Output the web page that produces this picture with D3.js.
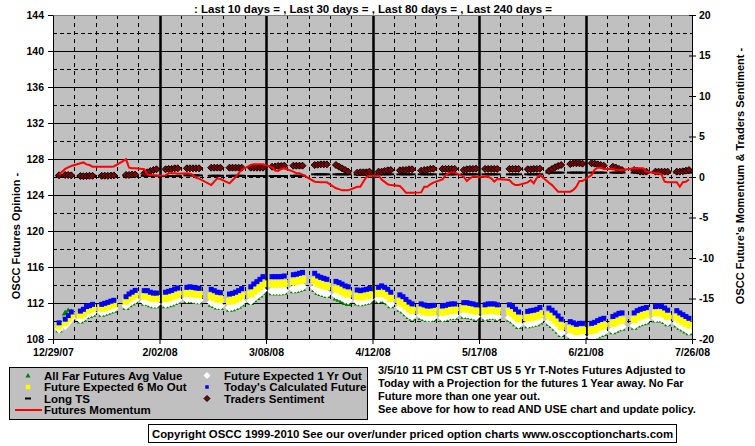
<!DOCTYPE html>
<html><head><meta charset="utf-8">
<script src="https://cdn.jsdelivr.net/npm/d3@7"></script>
<style>
body{margin:0;background:#fff;}
svg{display:block;font-family:"Liberation Sans",Arial,sans-serif;font-weight:bold;}
</style>
</head><body>
<svg id="chart" width="755" height="446"></svg>
<script>
// ---------------- DATA ----------------
// trading weeks start on these Mondays; each series gives Mon..Fri values (null = holiday)
const firstMonday = "2007-12-31";
const weekCount = 30;

const todaysCalc = [
 [109.8,null,110.2,110.6,111.0],[111.1,111.3,111.6,111.7,111.85],[111.85,111.96,112.07,112.2,112.3],
 [null,112.7,113.0,113.2,113.4],[113.37,113.37,113.2,113.1,113.1],[113.2,113.3,113.4,113.56,113.67],
 [113.74,113.8,113.74,113.67,113.63],[null,113.52,113.37,113.2,113.15],[113.0,113.07,113.2,113.37,113.6],
 [113.8,114.11,114.37,114.63,114.93],[114.93,114.93,114.93,114.93,115.0],[115.15,115.2,115.3,115.4,null],
 [115.3,115.0,114.85,114.74,114.63],[114.4,114.26,114.1,113.9,113.8],[113.45,113.37,113.45,113.52,113.6],
 [113.74,113.9,113.74,113.52,113.2],[112.9,112.7,112.4,112.1,111.9],[111.9,111.78,111.67,111.67,111.74],
 [111.67,111.74,111.85,111.9,111.9],[112.04,112.04,111.96,111.9,111.8],[111.8,111.9,111.9,111.9,111.8],
 [null,111.8,111.6,111.3,111.0],[111.07,111.15,111.2,111.3,111.5],[111.44,111.2,110.9,110.56,110.2],
 [109.93,109.8,109.63,109.74,109.74],[109.74,109.85,110.04,110.2,110.3],[110.5,110.67,110.85,110.9,null],
 [110.9,111.15,111.3,111.4,111.5],[111.6,111.67,111.6,111.44,111.2],[111.15,110.9,110.7,110.5,110.3]
];
const sixMonthOut = [
 [109.45,null,109.85,110.25,110.65],[110.65,110.85,111.15,111.25,111.4],[111.4,111.51,111.62,111.75,111.85],
 [null,112.2,112.5,112.7,112.9],[112.77,112.77,112.6,112.5,112.5],[112.5,112.6,112.7,112.86,112.97],
 [113.04,113.1,113.04,112.97,112.93],[null,112.77,112.62,112.45,112.4],[112.2,112.27,112.4,112.57,112.8],
 [113.0,113.31,113.57,113.83,114.13],[114.13,114.13,114.13,114.13,114.2],[114.35,114.4,114.5,114.6,null],
 [114.5,114.2,114.05,113.94,113.83],[113.6,113.46,113.3,113.1,113.0],[112.75,112.67,112.75,112.82,112.9],
 [113.04,113.2,113.04,112.82,112.5],[112.15,111.95,111.65,111.35,111.15],[111.2,111.08,110.97,110.97,111.04],
 [110.97,111.04,111.15,111.2,111.2],[111.34,111.34,111.26,111.2,111.1],[111.1,111.2,111.2,111.2,111.1],
 [null,111.05,110.85,110.55,110.25],[110.32,110.4,110.45,110.55,110.75],[110.64,110.4,110.1,109.76,109.4],
 [109.13,109.0,108.83,108.94,108.94],[108.94,109.05,109.24,109.4,109.5],[109.7,109.87,110.05,110.1,null],
 [110.15,110.4,110.55,110.65,110.75],[110.9,110.97,110.9,110.74,110.5],[110.4,110.15,109.95,109.75,109.55]
];
const oneYearOut = [
 [109.1,null,109.5,109.9,110.3],[110.2,110.4,110.7,110.8,110.95],[110.95,111.06,111.17,111.3,111.4],
 [null,111.7,112.0,112.2,112.4],[112.17,112.17,112.0,111.9,111.9],[111.9,112.0,112.1,112.26,112.37],
 [112.44,112.5,112.44,112.37,112.33],[null,112.07,111.92,111.75,111.7],[111.5,111.57,111.7,111.87,112.1],
 [112.25,112.56,112.82,113.08,113.38],[113.33,113.33,113.33,113.33,113.4],[113.55,113.6,113.7,113.8,null],
 [113.7,113.4,113.25,113.14,113.03],[112.9,112.76,112.6,112.4,112.3],[112.2,112.12,112.2,112.27,112.35],
 [112.44,112.6,112.44,112.22,111.9],[111.5,111.3,111.0,110.7,110.5],[110.6,110.48,110.37,110.37,110.44],
 [110.37,110.44,110.55,110.6,110.6],[110.74,110.74,110.66,110.6,110.5],[110.5,110.6,110.6,110.6,110.5],
 [null,110.4,110.2,109.9,109.6],[109.67,109.75,109.8,109.9,110.1],[109.94,109.7,109.4,109.06,108.7],
 [108.43,108.3,108.13,108.24,108.24],[108.24,108.35,108.54,108.7,108.8],[109.0,109.17,109.35,109.4,null],
 [109.5,109.75,109.9,110.0,110.1],[110.3,110.37,110.3,110.14,109.9],[109.75,109.5,109.3,109.1,108.9]
];
const allFarAvg = [
 [109.0,null,110.9,111.1,111.0],[110.0,110.2,110.5,110.6,110.75],[110.75,110.86,110.97,111.1,111.2],
 [null,111.5,111.8,112.0,112.2],[111.97,111.97,111.8,111.7,111.7],[111.7,111.8,111.9,112.06,112.17],
 [112.24,112.3,112.24,112.17,112.13],[null,111.87,111.72,111.55,111.5],[111.3,111.37,111.5,111.67,111.9],
 [112.05,112.36,112.62,112.88,113.18],[113.13,113.13,113.13,113.13,113.2],[113.35,113.4,113.5,113.6,null],
 [113.5,113.2,113.05,112.94,112.83],[112.55,112.41,112.25,112.05,111.95],[112.0,111.92,112.0,112.07,112.15],
 [112.24,112.4,112.24,112.02,111.7],[111.3,111.1,110.8,110.5,110.3],[110.4,110.28,110.17,110.17,110.24],
 [110.17,110.24,110.35,110.4,110.4],[110.54,110.54,110.46,110.4,110.3],[110.3,110.4,110.4,110.4,110.3],
 [null,110.2,110.0,109.7,109.4],[109.47,109.55,109.6,109.7,109.9],[109.74,109.5,109.2,108.86,108.5],
 [108.2,108.1,108.0,108.05,108.1],[108.04,108.15,108.34,108.5,108.6],[108.8,108.97,109.15,109.2,null],
 [109.3,109.55,109.7,109.8,109.9],[110.1,110.17,110.1,109.94,109.7],[109.55,109.3,109.1,108.9,108.7]
];
const tradersSentiment = [
 [0.21,null,0.25,0.25,0.2],[0.12,0.1,0.12,0.15,0.15],[0.15,0.16,0.15,0.18,0.2],
 [null,0.25,0.25,0.3,0.3],[0.45,0.58,0.74,0.86,0.95],[0.95,1.0,1.0,1.07,1.07],
 [1.07,1.07,1.07,1.07,1.07],[null,1.15,1.15,1.15,1.15],[1.15,1.15,1.15,1.15,1.15],
 [1.15,1.15,1.15,1.15,1.15],[1.27,1.3,1.36,1.36,1.4],[1.4,1.4,1.4,1.4,null],
 [1.48,1.52,1.56,1.56,1.56],[1.48,1.27,1.07,0.86,0.66],[0.54,0.58,0.58,0.58,0.66],
 [0.66,0.66,0.74,0.82,0.86],[0.82,0.86,0.86,0.95,0.95],[0.78,0.86,0.9,1.0,1.03],
 [1.0,1.0,1.0,1.0,1.0],[0.86,0.95,1.0,1.0,1.03],[1.0,1.0,1.0,1.0,1.0],
 [null,1.0,1.0,1.0,1.0],[0.95,0.95,1.0,1.0,1.03],[0.74,0.99,1.2,1.36,1.48],
 [1.6,1.69,1.69,1.69,1.65],[1.69,1.65,1.56,1.48,1.4],[1.27,1.15,1.0,0.86,null],
 [0.86,0.78,0.66,0.66,0.66],[0.66,0.66,0.66,0.66,0.66],[0.66,0.66,0.7,0.78,0.86]
];
const futuresMomentum = [
 [0.3,null,1.0,1.2,1.36],[1.69,1.8,1.56,1.48,1.27],[1.27,1.27,1.27,1.27,1.3],
 [null,2.18,1.15,1.07,1.07],[0.95,0.3,0.25,0.2,0.16],[0.2,0.45,0.45,0.45,0.4],
 [0.45,0.4,0.25,-0.1,-0.2],[null,-0.99,-0.58,-0.17,-0.25],[-0.78,-0.4,0.0,0.45,0.9],
 [1.5,1.56,1.56,1.56,1.56],[1.2,0.8,0.75,1.0,1.07],[0.66,0.45,0.45,0.3,null],
 [-0.58,-0.62,-0.66,-0.66,-0.66],[-1.4,-1.5,-1.65,-1.65,-1.65],[-1.2,-1.2,-0.58,0.0,0.16],
 [0.16,-0.3,-0.6,-0.9,-1.0],[-1.11,-1.5,-1.93,-1.93,-1.93],[-1.9,-1.2,-1.2,-0.9,-0.7],
 [-0.3,0.2,0.5,0.55,0.55],[0.04,-0.49,-0.17,0.04,0.04],[0.04,0.04,-0.17,-0.58,-0.25],
 [null,-0.37,-0.8,-0.99,-0.99],[-0.66,-0.37,-0.78,-0.1,0.25],[-0.7,-1.0,-1.4,-1.81,-1.81],
 [-1.81,-1.6,-1.2,-0.5,-0.49],[0.25,0.9,1.15,1.15,1.0],[1.0,0.9,0.86,0.86,null],
 [1.07,1.07,1.07,1.07,0.66],[0.45,0.45,0.3,-0.58,-0.65],[-0.65,-1.2,-0.65,-0.58,-0.3]
];
// Long TS: one level per week (drawn at each trading day)
const longTS = [0.15,0.15,0.15,0.15,0.15,0.12,0.2,0.15,0.15,0.12,0.12,0.15,0.33,0.33,0.3,
                0.33,0.33,0.33,0.33,0.33,0.33,0.33,0.33,0.54,0.54,0.54,0.54,0.54,0.54,0.54];

const leftTicks = [108,112,116,120,124,128,132,136,140,144];
const rightTicks = [-20,-15,-10,-5,0,5,10,15,20];
const dateTickValues = ["2007-12-29","2008-02-02","2008-03-08","2008-04-12","2008-05-17","2008-06-21","2008-07-26"];
const dateTickLabels = ["12/29/07","2/02/08","3/08/08","4/12/08","5/17/08","6/21/08","7/26/08"];

const titleText = ":  Last 10 days = ,  Last 30 days = ,  Last 80 days = ,  Last 240 days =";
const leftTitle = "OSCC Futures Opinion -";
const rightTitle = "OSCC Future's Momentum & Traders Sentiment -";
const noteLines = ["3/5/10 11 PM CST CBT US 5 Yr T-Notes Futures Adjusted to",
 "Today with a Projection for the futures 1 Year away. No Far",
 "Future more than one year out.",
 "See above for how to read AND USE chart and update policy."];
const copyright = "Copyright OSCC 1999-2010 See our over/under priced option charts www.osccoptioncharts.com";

// ---------------- LAYOUT ----------------
const svg = d3.select("#chart");
const L = 53, R = 692, T = 15, B = 339;
const parse = d3.timeParse("%Y-%m-%d");
const x = d3.scaleTime().domain([parse("2007-12-29"), parse("2008-07-26")]).range([L, R]);
const yL = d3.scaleLinear().domain([108,144]).range([B,T]);
const yR = d3.scaleLinear().domain([-20,20]).range([B,T]);

const mon0 = parse(firstMonday);
function flat(series){
  const out=[];
  series.forEach((wk,k)=>wk.forEach((v,d)=>{ if(v!==null) out.push({date:d3.timeDay.offset(mon0,7*k+d), v}); }));
  return out;
}

// plot background
svg.append("rect").attr("x",L).attr("y",T).attr("width",R-L).attr("height",B-T).attr("fill","#c0c0c0");

const grid = svg.append("g");
// horizontal grid
d3.range(110,144,2).forEach(v=>{
  const major = v%4===0;
  grid.append("line").attr("x1",L).attr("x2",R).attr("y1",yL(v)+0.5).attr("y2",yL(v)+0.5)
    .attr("stroke","#000").attr("stroke-width",1)
    .attr("stroke-dasharray", major?null:"4,3");
});
// vertical grid (weekly)
for(let n=1;n<30;n++){
  const d = d3.timeDay.offset(parse("2007-12-29"),7*n);
  const xx = Math.round(x(d));
  const major = n%5===0;
  grid.append("line").attr("x1",xx+0.5).attr("x2",xx+0.5).attr("y1",T).attr("y2",B)
    .attr("stroke","#000").attr("stroke-width",major?2.5:1)
    .attr("stroke-dasharray", major?null:"4,4");
}
// frame
svg.append("line").attr("x1",L).attr("x2",R).attr("y1",T+0.5).attr("y2",T+0.5).attr("stroke","#808080");

svg.append("clipPath").attr("id","clip").append("rect").attr("x",L).attr("y",T).attr("width",R-L).attr("height",B-T);
const plot = svg.append("g").attr("clip-path","url(#clip)");

const tri = "M0,-3.5L3.5,2.5L-3.5,2.5Z";
function diamond(h){return `M0,${-h}L${h},0L0,${h}L${-h},0Z`;}
function square(s){return `M${-s/2},${-s/2}h${s}v${s}h${-s}Z`;}

function drawMarkers(series, scale, path, fill, stroke){
  plot.append("g").selectAll("path").data(flat(series)).join("path")
    .attr("d",path).attr("transform",d=>`translate(${x(d.date)},${scale(d.v)})`)
    .attr("fill",fill).attr("stroke",stroke||"none").attr("stroke-width",stroke?1:0);
}
drawMarkers(allFarAvg, yL, tri, "#008000");
drawMarkers(oneYearOut, yL, diamond(4.5), "#ffffff");
drawMarkers(sixMonthOut, yL, square(7), "#ffff00");
drawMarkers(todaysCalc, yL, square(5), "#0000ff");

// Long TS dashes
const lts = [];
todaysCalc.forEach((wk,k)=>wk.forEach((v,d)=>{ if(v!==null) lts.push({date:d3.timeDay.offset(mon0,7*k+d), v:longTS[k]}); }));
plot.append("g").selectAll("rect").data(lts).join("rect")
  .attr("x",d=>x(d.date)-3.5).attr("y",d=>yR(d.v)-1).attr("width",7).attr("height",2).attr("fill","#000");

drawMarkers(tradersSentiment, yR, diamond(3.5), "#800000", "#000");

plot.append("path").datum(flat(futuresMomentum))
  .attr("d", d3.line().x(d=>x(d.date)).y(d=>yR(d.v)))
  .attr("fill","none").attr("stroke","#ff0000").attr("stroke-width",2);

// axes
const fs = "10.5px";
const axL = svg.append("g").attr("transform",`translate(${L},0)`)
  .call(d3.axisLeft(yL).tickValues(leftTicks).tickSize(5).tickPadding(4).tickSizeOuter(0));
const axR = svg.append("g").attr("transform",`translate(${R},0)`)
  .call(d3.axisRight(yR).tickValues(rightTicks).tickSize(4).tickPadding(3).tickSizeOuter(0).tickFormat(d=>String(d)));
axR.selectAll(".tick line").attr("x1",-3);
const axB = svg.append("g").attr("transform",`translate(0,${B})`)
  .call(d3.axisBottom(x).tickValues(dateTickValues.map(parse)).tickFormat((d,i)=>dateTickLabels[i]).tickSize(5).tickPadding(5).tickSizeOuter(0));
[axL,axR,axB].forEach(a=>{
  a.attr("font-family",null).attr("font-size",null);
  a.selectAll("text").attr("font-size",fs).attr("font-weight","bold").attr("fill","#000");
  a.selectAll("line").attr("stroke","#000");
  a.select(".domain").attr("stroke","#000").attr("stroke-width",1);
});

// titles
svg.append("text").attr("x",373).attr("y",13).attr("text-anchor","middle").attr("font-size","11.5px").text(titleText);
svg.append("text").attr("transform","translate(20,236) rotate(-90)").attr("text-anchor","middle").attr("font-size","11px").text(leftTitle);
svg.append("text").attr("transform","translate(744,176) rotate(-90)").attr("text-anchor","middle").attr("font-size","11px").text(rightTitle);

// legend
const lg = svg.append("g");
lg.append("rect").attr("x",9.5).attr("y",367.5).attr("width",358).attr("height",52).attr("fill","#c0c0c0").attr("stroke","#000");
const rows=[375.5,387,398.5,410];
const legendItems = [
  {c:0,r:0,label:"All Far Futures Avg Value",sym:"tri"},
  {c:1,r:0,label:"Future Expected 1 Yr Out",sym:"white"},
  {c:0,r:1,label:"Future Expected 6 Mo Out",sym:"yellow"},
  {c:1,r:1,label:"Today's Calculated Future",sym:"blue"},
  {c:0,r:2,label:"Long TS",sym:"dash"},
  {c:1,r:2,label:"Traders Sentiment",sym:"sent"},
  {c:0,r:3,label:"Futures Momentum",sym:"line"}
];
legendItems.forEach(it=>{
  const sx = it.c? 207 : 28, tx = it.c? 224 : 44, yy = rows[it.r];
  const g = lg.append("g").attr("transform",`translate(${sx},${yy})`);
  if(it.sym==="tri") g.append("path").attr("d","M0,-2.5L2.5,2L-2.5,2Z").attr("fill","#008000");
  if(it.sym==="white") g.append("path").attr("d",diamond(3.5)).attr("fill","#fff");
  if(it.sym==="yellow") g.append("path").attr("d",square(4.5)).attr("fill","#ffff00");
  if(it.sym==="blue") g.append("path").attr("d",square(3.5)).attr("fill","#0000ff");
  if(it.sym==="dash") g.append("rect").attr("x",-3).attr("y",-1).attr("width",6).attr("height",2).attr("fill","#000");
  if(it.sym==="sent") g.append("path").attr("d",diamond(3)).attr("fill","#800000").attr("stroke","#000");
  if(it.sym==="line") g.append("line").attr("x1",-13).attr("x2",14).attr("stroke","#ff0000").attr("stroke-width",2);
  lg.append("text").attr("x",tx).attr("y",yy+4).attr("font-size","11.5px").text(it.label);
});

// notes
noteLines.forEach((t,i)=>svg.append("text").attr("x",378).attr("y",374+i*13).attr("font-size","11px").text(t));

// copyright
svg.append("rect").attr("x",148.5).attr("y",424.5).attr("width",528).attr("height",18).attr("fill","#fff").attr("stroke","#000");
svg.append("text").attr("x",412.5).attr("y",437.5).attr("text-anchor","middle").attr("font-size","11.4px").text(copyright);
</script>
</body></html>
